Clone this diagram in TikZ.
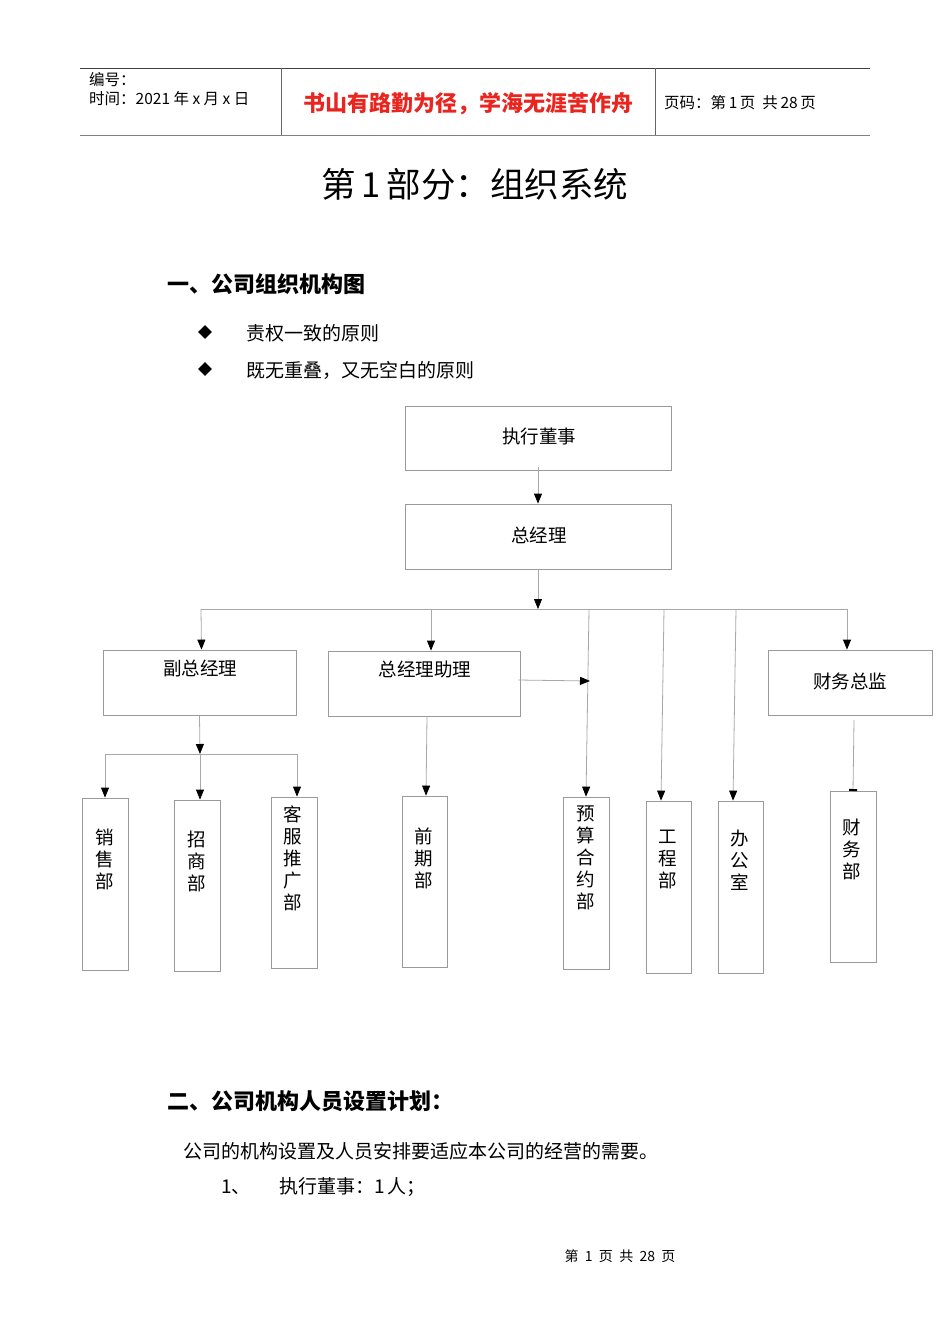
\documentclass[tikz,border=0pt]{standalone}
\usepackage{fontspec}
\setmainfont{Noto Sans CJK SC}
\newfontfamily\cjk{Noto Sans CJK SC}
\usetikzlibrary{arrows.meta,shapes.geometric}
\definecolor{linegray}{HTML}{A8A8A8}
\definecolor{boxgray}{HTML}{9A9A9A}
\definecolor{hdrred}{HTML}{E8251F}
\tikzset{
  box/.style={draw=boxgray, line width=0.8pt, rectangle, inner sep=0pt},
  vbox/.style={box, minimum width=46pt, minimum height=171pt},
  conn/.style={draw=linegray, line width=0.8pt},
  arr/.style={conn, -{Triangle[width=8pt,length=10pt,color=black]}},
  lbl/.style={font=\fontsize{18.5}{22}\selectfont, inner sep=0pt},
  vlbl/.style={font=\fontsize{18.5}{22}\selectfont, inner sep=0pt, align=center, anchor=north},
  txt/.style={anchor=west, inner sep=0pt},
}
\begin{document}
\begin{tikzpicture}[x=1pt,y=-1pt]
\useasboundingbox[fill=white] (0,0) rectangle (950,1344);
% header
\draw[draw=black!75, line width=0.6pt] (80,68) -- (870,68);
\draw[draw=black!50, line width=1.6pt] (80,135.5) -- (870,135.5);
\draw[draw=black!60, line width=0.6pt] (281,68) -- (281,135);
\draw[draw=black!60, line width=0.6pt] (655,68) -- (655,135);
\node[txt, font=\fontsize{15.5}{16}\selectfont] (hno) at (89,80) {编号：};
\node[txt, font=\fontsize{15.5}{16}\selectfont] (htime) at (89,99) {时间：2021\ 年\ x\ 月\ x\ 日};
\node[inner sep=0pt, font=\fontsize{22}{24}\selectfont\bfseries, text=hdrred] (hmotto) at (468,104) {书山有路勤为径，学海无涯苦作舟};
\node[txt, font=\fontsize{15.5}{16}\selectfont] (hpage) at (664,103) {页码：第\,1\,页\ \ 共\,28\,页};
% title
\node[inner sep=0pt, font=\fontsize{34.5}{38}\selectfont] (title) at (475,184) {第\,1\,部分：组织系统};
\node[txt, font=\fontsize{22}{24}\selectfont\bfseries] (sec1) at (167,284) {一、公司组织机构图};
\node[diamond, fill=black, inner sep=0pt, minimum size=14pt] (d1) at (205,332) {};
\node[diamond, fill=black, inner sep=0pt, minimum size=14pt] (d2) at (205,369) {};
\node[txt, font=\fontsize{19}{22}\selectfont] (p1) at (246,333) {责权一致的原则};
\node[txt, font=\fontsize{19}{22}\selectfont] (p2) at (246,370) {既无重叠，又无空白的原则};
% chart boxes
\node[box, minimum width=266pt, minimum height=64pt] (exec) at (538,438) {};
\node[lbl] at (539,436) {执行董事};
\node[box, minimum width=266pt, minimum height=65pt] (gm) at (538,536.5) {};
\node[lbl] at (539,535) {总经理};
\node[box, minimum width=193pt, minimum height=65pt] (vp) at (199.5,682.5) {};
\node[lbl] at (200,668) {副总经理};
\node[box, minimum width=192pt, minimum height=65pt] (asst) at (424,683.5) {};
\node[lbl] at (425,669) {总经理助理};
\node[box, minimum width=164pt, minimum height=65pt] (cfo) at (850,682.5) {};
\node[lbl] at (850,681) {财务总监};
% vertical boxes
\node[vbox, minimum height=172pt] (sales) at (105,884) {};
\node[vlbl] at (105,829) {销\\售\\部};
\node[vbox] (zs) at (197,885.5) {};
\node[vlbl] at (197,831) {招\\商\\部};
\node[vbox] (kf) at (294,882.5) {};
\node[vlbl] at (293,806) {客\\服\\推\\广\\部};
\node[vbox, minimum width=45pt] (qq) at (424.5,881.5) {};
\node[vlbl] at (424,828) {前\\期\\部};
\node[vbox, minimum height=172pt] (ys) at (586,883) {};
\node[vlbl] at (586,806) {预\\算\\合\\约\\部};
\node[vbox, minimum width=45pt, minimum height=172pt] (gc) at (668.5,887) {};
\node[vlbl] at (668,830) {工\\程\\部};
\node[vbox, minimum width=45pt, minimum height=172pt] (bg) at (740.5,887) {};
\node[vlbl] at (740,830) {办\\公\\室};
\node[vbox] (cw) at (853,876.5) {};
\node[vlbl] at (852,819) {财\\务\\部};
% connectors
\draw[arr] ([yshift=3pt]exec.south) -- (gm.north);
\coordinate (bus) at (538,609);
\coordinate (busL) at (201,609);
\coordinate (busR) at (847,609);
\draw[arr] (gm.south) -- (bus);
\draw[conn] (busL) -- (busR);
\draw[arr] (busL) -- ([xshift=2pt]vp.north);
\draw[arr] (431,609) -- ([xshift=7pt]asst.north);
\draw[arr] (busR) -- ([xshift=-3pt]cfo.north);
\draw[arr] (589,609) -- (ys.north);
\draw[arr] (664,609) -- ([xshift=-7.5pt]gc.north);
\draw[arr] (736,609) -- ([xshift=-7.5pt]bg.north);
\coordinate (asstout) at (518,680);
\coordinate (ysline) at (590,681);
\draw[arr] (asstout) -- (ysline);
% VP branch
\coordinate (vpbus) at (200,754);
\draw[arr] (vp.south) -- (vpbus);
\draw[conn] (105,754) -- (297,754);
\draw[arr] (105,754) -- (sales.north);
\draw[arr] (vpbus) -- ([xshift=3pt]zs.north);
\draw[arr] (297,754) -- ([xshift=3pt]kf.north);
\draw[arr] ([xshift=3pt]asst.south) -- ([xshift=1.5pt]qq.north);
\draw[conn, -{Rectangle[width=8pt,length=2pt,color=black]}] (854,720) -- (853,791);
% section 2
\node[txt, font=\fontsize{22}{24}\selectfont\bfseries] (sec2) at (167,1101) {二、公司机构人员设置计划：};
\node[txt, font=\fontsize{19}{22}\selectfont] (body) at (183,1151) {公司的机构设置及人员安排要适应本公司的经营的需要。};
\node[txt, font=\fontsize{19}{22}\selectfont] (n1) at (221,1187) {1、};
\node[txt, font=\fontsize{19}{22}\selectfont] (n1t) at (279,1187) {执行董事：1\,人；};
\node[inner sep=0pt, font=\fontsize{14}{15}\selectfont] (foot) at (620,1256) {第\ \ 1\ \ 页\ \ 共\ \ 28\ \ 页};
\end{tikzpicture}
\end{document}
